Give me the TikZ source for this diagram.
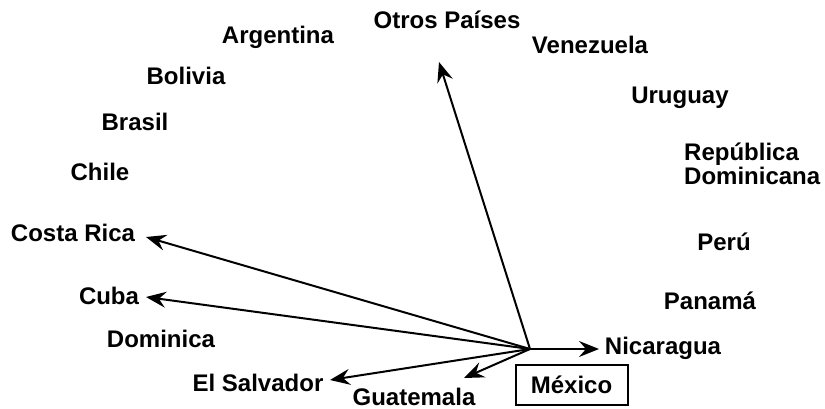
\documentclass[tikz,border=0pt]{standalone}
\usepackage{fontspec}
\setmainfont{Liberation Sans}
\usetikzlibrary{arrows.meta}
\begin{document}
\begin{tikzpicture}[x=1pt,y=-1pt,
  lbl/.style={font=\fontsize{24}{24}\selectfont\bfseries, inner sep=0pt},
  arr/.style={line width=2pt, -{Stealth[length=20pt,width=16pt,inset=7pt]}}]
\useasboundingbox (0,0) rectangle (825,409);
\node[lbl] (otros) at (447,20) {Otros Países};
\node[lbl] (arg) at (278,37) {Argentina};
\node[lbl] (ven) at (590,45) {Venezuela};
\node[lbl] (bol) at (186,76) {Bolivia};
\node[lbl] (bra) at (135,122) {Brasil};
\node[lbl] (chi) at (100,172) {Chile};
\node[lbl] (uru) at (680,98) {Uruguay};
\node[lbl, align=left, anchor=west] (rep) at (684,164) {República\\Dominicana};
\node[lbl] (per) at (724,242) {Perú};
\node[lbl] (pan) at (710,301) {Panamá};
\node[lbl] (cr) at (73,233) {Costa Rica};
\node[lbl] (cuba) at (109,296) {Cuba};
\node[lbl] (dom) at (161,339) {Dominica};
\node[lbl] (els) at (258,383) {El Salvador};
\node[lbl] (gua) at (414,396.5) {Guatemala};
\node[lbl] (nic) at (663,348) {Nicaragua};
\node[lbl, draw, line width=2pt, minimum width=112pt, minimum height=40pt] (mex) at (571.5,384.5) {México};
\coordinate (o) at (530,349);
\coordinate (tOtros) at (439,62);
\coordinate (tCR) at (146,237);
\coordinate (tCuba) at (146,297);
\coordinate (tEls) at (330,380);
\coordinate (tGua) at (464,378);
\coordinate (tNic) at (599,349);
\draw[arr] (o) -- (tOtros);
\draw[arr] (o) -- (tCR);
\draw[arr] (o) -- (tCuba);
\draw[arr] (o) -- (tEls);
\draw[arr] (o) -- (tGua);
\draw[arr] (o) -- (tNic);
\end{tikzpicture}
\end{document}
